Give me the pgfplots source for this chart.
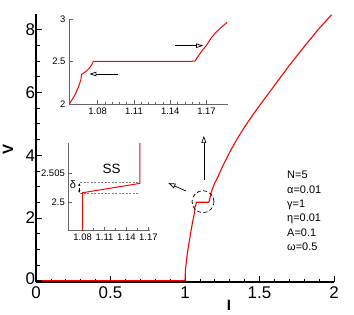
\documentclass[border=0pt]{standalone}
\usepackage{fontspec}
\setmainfont{Liberation Sans}
\usepackage{pgfplots}
\pgfplotsset{compat=1.18}
\usetikzlibrary{arrows.meta}
\begin{document}
\begin{tikzpicture}
\useasboundingbox (-36bp,-33bp) rectangle (318bp,282bp);
% main axis
\begin{axis}[at={(0,0)}, anchor=south west, scale only axis, width=298bp, height=268bp,
 xmin=0, xmax=2, ymin=-0.04, ymax=8.5,
 axis x line=bottom, axis y line=left, axis line style={-, line width=1.1bp},
 xtick={0,0.5,1,1.5,2}, xticklabels={0,0.5,1,1.5,2},
 ytick={0,2,4,6,8}, yticklabels={\raisebox{3.5bp}{0},2,4,6,8},
 minor x tick num=4, minor y tick num=3,
 tick align=inside,
 major tick length=6bp, minor tick length=3.5bp,
 tick style={black, line width=0.8bp},
 ticklabel style={font=\fontsize{17}{17}\selectfont},
 yticklabel style={xshift=2.5bp},
 xticklabel style={yshift=-1.2bp},
 clip=false]
\addplot[red, line width=1.1bp] coordinates {
(0.04,0) (1.0,0) (1.003,0.35) (1.008,0.55) (1.015,0.85) (1.025,1.15) (1.037,1.5) (1.05,1.85)
(1.0565,2.0) (1.0612,2.106) (1.064,2.197) (1.066,2.28) (1.0668,2.35) (1.0709,2.39) (1.075,2.46)
(1.0764,2.5) (1.1604,2.503) (1.1645,2.59) (1.17,2.69) (1.1769,2.83) (1.187,2.96) (1.2,3.12)
(1.22,3.3) (1.25,3.62) (1.3,4.1) (1.35,4.52) (1.4,4.9) (1.45,5.25) (1.5,5.58) (1.6,6.22)
(1.7,6.86) (1.8,7.46) (1.9,8.04) (1.985,8.48)};
\draw[black, line width=0.7bp, dash pattern=on 4bp off 2.5bp] (axis cs:1.121,2.52) circle[radius=11bp];
\draw[-{Triangle[open,length=7bp,width=5bp]}, line width=0.7bp] (axis cs:1.1266,3.216) -- (axis cs:1.1266,4.613);
\draw[-{Triangle[open,length=7bp,width=5bp]}, line width=0.7bp] (axis cs:1.007,2.857) -- (axis cs:0.889,3.111);
\end{axis}
% inset 1
\begin{axis}[at={(33bp,178bp)}, anchor=south west, scale only axis, width=159.3bp, height=85bp,
 xmin=1.0563, xmax=1.188, ymin=2, ymax=3,
 axis x line=bottom, axis y line=left, axis line style={-, gray!80!black, line width=0.6bp},
 xtick={1.08,1.11,1.14,1.17}, xticklabels={1.08,1.11,1.14,1.17},
 ytick={2,2.5,3}, yticklabels={2,2.5,3},
 minor x tick num=4, tick align=inside, major tick length=3.5bp, minor tick length=2bp,
 tick style={gray!80!black, line width=0.5bp},
 ticklabel style={font=\fontsize{9.5}{9.5}\selectfont}, clip=false]
\addplot[red, line width=1bp] coordinates {
(1.0565,2.0) (1.0588,2.05) (1.0612,2.106) (1.064,2.197) (1.066,2.28) (1.0668,2.35) (1.069,2.37)
(1.0709,2.39) (1.073,2.42) (1.075,2.46) (1.0764,2.5) (1.1604,2.503) (1.1625,2.55) (1.1645,2.59)
(1.167,2.64) (1.17,2.69) (1.1735,2.77) (1.1769,2.83) (1.182,2.9) (1.187,2.96)};
\draw[-{Triangle[open,length=7bp,width=4.5bp]}, line width=0.7bp] (axis cs:1.0965,2.353) -- (axis cs:1.0731,2.353);
\draw[-{Triangle[open,length=7bp,width=4.5bp]}, line width=0.7bp] (axis cs:1.1439,2.686) -- (axis cs:1.1672,2.686);
\end{axis}
% inset 2
\begin{axis}[at={(32.3bp,52bp)}, anchor=south west, scale only axis, width=81.7bp, height=87bp,
 xmin=1.0603, xmax=1.1723, ymin=2.495, ymax=2.5104,
 axis x line=bottom, axis y line=left, axis line style={-, gray!80!black, line width=0.6bp},
 xtick={1.08,1.11,1.14,1.17}, xticklabels={1.08,1.11,1.14,1.17},
 ytick={2.5,2.505}, yticklabels={2.5,2.505},
 minor x tick num=1, tick align=inside, major tick length=3.5bp, minor tick length=2bp,
 tick style={gray!80!black, line width=0.5bp},
 ticklabel style={font=\fontsize{9.5}{9.5}\selectfont}, clip=false]
\draw[gray, dash pattern=on 2bp off 1.5bp, line width=0.7bp] (axis cs:1.077,2.50336) -- (axis cs:1.1585,2.50336);
\draw[gray, dash pattern=on 2bp off 1.5bp, line width=0.7bp] (axis cs:1.077,2.5015) -- (axis cs:1.157,2.5015);
\addplot[red, line width=1bp] coordinates {(1.08,2.495) (1.08,2.5016) (1.1585,2.50325) (1.1585,2.5104)};
\draw[{Stealth[length=2.5bp,width=2.5bp]}-{Stealth[length=2.5bp,width=2.5bp]}, densely dashed, line width=0.5bp] (axis cs:1.0753,2.5016) -- (axis cs:1.0753,2.50325);
\node[font=\fontsize{11}{11}\selectfont] at (axis cs:1.0665,2.5031) {δ};
\node[font=\fontsize{13.5}{13.5}\selectfont] at (axis cs:1.1197,2.5059) {SS};
\end{axis}
% labels
\node[font=\fontsize{15}{15}\selectfont\bfseries] at (193bp,-23bp) {I};
\node[font=\fontsize{15}{15}\selectfont\bfseries, rotate=90] at (-28bp,132bp) {V};
\node[anchor=north west, align=left, inner sep=0pt, font=\fontsize{11}{14.4}\selectfont] at (251bp,111bp) {N=5\\α=0.01\\γ=1\\η=0.01\\A=0.1\\ω=0.5};
\end{tikzpicture}
\end{document}
